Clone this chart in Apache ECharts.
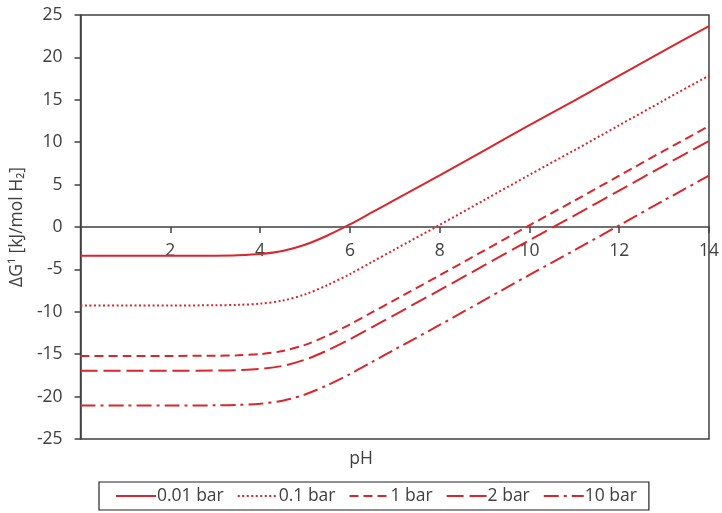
<!DOCTYPE html>
<html><head><meta charset="utf-8">
<script src="https://cdn.jsdelivr.net/npm/echarts@6/dist/echarts.min.js"></script>
<style>html,body{margin:0;padding:0;background:#fff}#c{width:722px;height:513px}</style>
</head><body><div id="c"></div>
<script>
const pH = [0, 1, 2, 3, 3.5, 4, 4.5, 5, 5.5, 6, 6.5, 7, 8, 9, 10, 11, 12, 13, 14];
const seriesNames = ['0.01 bar', '0.1 bar', '1 bar', '2 bar', '10 bar'];
const g001 = [-3.4, -3.4, -3.4, -3.38, -3.33, -3.19, -2.83, -2.1, -1.0, 0.3, 1.75, 3.2, 6.1, 9.05, 12.0, 14.9, 17.85, 20.8, 23.7];
const g01  = [-9.25, -9.25, -9.25, -9.23, -9.18, -9.04, -8.68, -7.95, -6.85, -5.55, -4.1, -2.65, 0.25, 3.2, 6.15, 9.05, 12.0, 14.95, 17.85];
const g1   = [-15.2, -15.2, -15.2, -15.18, -15.13, -14.99, -14.63, -13.9, -12.8, -11.5, -10.05, -8.6, -5.7, -2.75, 0.2, 3.1, 6.05, 9.0, 11.9];
const g2   = [-16.95, -16.95, -16.95, -16.93, -16.88, -16.74, -16.38, -15.65, -14.55, -13.25, -11.8, -10.35, -7.45, -4.5, -1.55, 1.35, 4.3, 7.25, 10.15];
const g10  = [-21.05, -21.05, -21.05, -21.03, -20.98, -20.84, -20.48, -19.75, -18.65, -17.35, -15.9, -14.45, -11.55, -8.6, -5.65, -2.75, 0.2, 3.15, 6.05];
const yTicks = [-25, -20, -15, -10, -5, 0, 5, 10, 15, 20, 25];
const xTicks = [0, 2, 4, 6, 8, 10, 12, 14];

const RED = '#d9262c';
const AX = '#404040';
const FS = 17.5;
const FONT = '"Open Sans", "Noto Sans", sans-serif';
const dashes = ['solid', [2, 2.5], [9, 5], [17, 6], [15, 5, 3, 5]];
const allData = [g001, g01, g1, g2, g10];

const chart = echarts.init(document.getElementById('c'), null, {renderer: 'canvas'});
chart.setOption({
  animation: false,
  textStyle: {fontFamily: FONT},
  title: {text: 'pH', left: 'center', top: 445, textStyle: {fontSize: FS, fontWeight: 'normal', color: AX, fontFamily: FONT}},
  grid: {left: 78, right: 8, top: 15, bottom: 74, show: true, borderColor: AX, borderWidth: 1.5, containLabel: false},
  legend: {
    left: 99, top: 482, orient: 'horizontal',
    data: seriesNames,
    itemWidth: 40, itemHeight: 14, itemGap: 13,
    padding: [5, 12, 5, 16],
    borderColor: '#222', borderWidth: 1.2,
    itemStyle: {opacity: 0},
    textStyle: {fontSize: FS, color: AX, fontFamily: FONT, padding: [0, 0, 0, -4]}
  },
  xAxis: {
    type: 'value', min: 0, max: 14, interval: 2, offset: -212,
    axisLine: {show: true, onZero: false, lineStyle: {color: AX, width: 1.5}},
    axisTick: {show: true, length: 6, lineStyle: {color: AX, width: 1.5}},
    axisLabel: {showMinLabel: false, fontSize: FS, color: AX, margin: 15, fontFamily: FONT,
      formatter: v => xTicks.includes(v) ? String(v) : ''},
    splitLine: {show: false}
  },
  yAxis: {
    type: 'value', min: -25, max: 25, interval: 5,
    name: 'ΔG¹ [kJ/mol H₂]', nameLocation: 'middle', nameGap: 48, nameRotate: 90,
    nameTextStyle: {fontSize: FS, color: AX, fontFamily: FONT},
    axisLine: {show: true, onZero: false, lineStyle: {color: AX, width: 1.5}},
    axisTick: {show: true, length: 6, lineStyle: {color: AX, width: 1.5}},
    axisLabel: {fontSize: FS, color: AX, margin: 18, fontFamily: FONT,
      formatter: v => yTicks.includes(v) ? String(v) : ''},
    splitLine: {show: false}
  },
  series: seriesNames.map((n, i) => ({
    name: n, type: 'line', smooth: 0.3, symbol: 'none', showSymbol: false,
    data: pH.map((x, j) => [x, allData[i][j]]),
    lineStyle: {color: RED, width: 2, type: dashes[i]},
    itemStyle: {color: RED}
  }))
});
</script></body></html>
